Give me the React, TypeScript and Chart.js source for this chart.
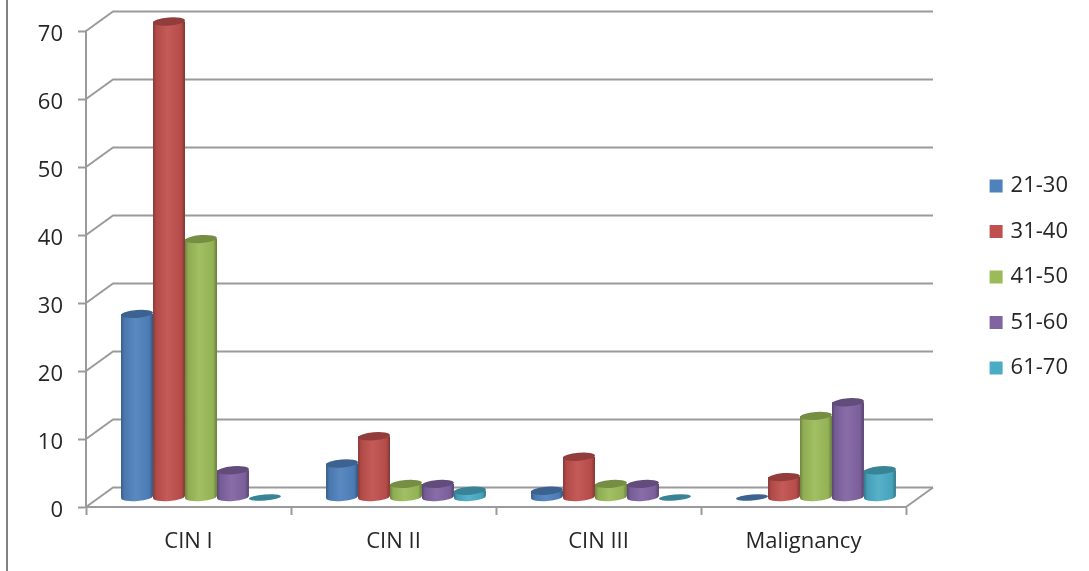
import React, { useEffect, useRef } from "react";
import { Chart, registerables, BarController, BarElement } from "chart.js";

const categories = ["CIN I", "CIN II", "CIN III", "Malignancy"];
const seriesNames = ["21-30", "31-40", "41-50", "51-60", "61-70"];
const age21to30 = [27, 5, 1, 0];
const age31to40 = [70, 9, 6, 3];
const age41to50 = [38, 2, 2, 12];
const age51to60 = [4, 2, 2, 14];
const age61to70 = [0, 1, 0, 4];
const seriesValues = [age21to30, age31to40, age41to50, age51to60, age61to70];
const seriesColors = ["#4f81bd", "#c0504d", "#9bbb59", "#8064a2", "#4bacc6"];

const GRID = "#9a9a9a";
const TEXT = "#262626";
const FONT = '"Open Sans", sans-serif';
const FONT_SIZE = 22;
const PLOT_RIGHT = 906;
const LEGEND_MARGIN = 11;
const LEGEND_LIFT = 24;
const WALL_DX = 27;
const WALL_DY = -19.5;
const BAR_DX = 12.5;
const BAR_DY = -9.5;
const CAP_RY = 4;

function shade(hex: string, factor: number): string {
  const n = parseInt(hex.slice(1), 16);
  const ch = [(n >> 16) & 255, (n >> 8) & 255, n & 255].map((c) =>
    Math.max(0, Math.min(255, Math.round(factor <= 1 ? c * factor : c + (255 - c) * (factor - 1))))
  );
  return `rgb(${ch[0]},${ch[1]},${ch[2]})`;
}

// Bar element painted as a shaded upright cylinder standing mid-way on the floor.
class CylinderElement extends BarElement {
  static id = "cylinder";

  draw(ctx: CanvasRenderingContext2D) {
    const { x, y, base, width } = (this as any).getProps(["x", "y", "base", "width"]);
    const color: string = (this as any).options.backgroundColor;
    const cx = x + BAR_DX;
    const top = y + BAR_DY;
    const bottom = base + BAR_DY;
    const half = width / 2;
    const tilt = -0.08;

    ctx.save();
    if (bottom - top < 1) {
      ctx.fillStyle = shade(color, 0.76);
      ctx.beginPath();
      ctx.ellipse(cx, bottom, half, 3, tilt, 0, Math.PI * 2);
      ctx.fill();
      ctx.restore();
      return;
    }

    const body = ctx.createLinearGradient(cx - half, 0, cx + half, 0);
    body.addColorStop(0, shade(color, 0.7));
    body.addColorStop(0.1, shade(color, 0.92));
    body.addColorStop(0.45, shade(color, 1.06));
    body.addColorStop(0.88, shade(color, 0.95));
    body.addColorStop(1, shade(color, 0.66));
    ctx.fillStyle = body;
    ctx.beginPath();
    ctx.moveTo(cx - half, top);
    ctx.lineTo(cx - half, bottom);
    ctx.ellipse(cx, bottom, half, CAP_RY, tilt, Math.PI, 0, true);
    ctx.lineTo(cx + half, top);
    ctx.closePath();
    ctx.fill();

    ctx.fillStyle = shade(color, 0.76);
    ctx.beginPath();
    ctx.ellipse(cx, top, half, CAP_RY, tilt, 0, Math.PI * 2);
    ctx.fill();
    ctx.restore();
  }
}

class CylinderController extends BarController {
  static id = "cylinderBar";
  static defaults = { ...BarController.defaults, dataElementType: "cylinder" };
  static overrides = BarController.overrides;
}

Chart.register(...registerables, CylinderElement, CylinderController);

// Back wall gridlines, their slanted returns to the value axis, and the floor edge.
const wallPlugin = {
  id: "wall",
  beforeDatasetsDraw(chart: any) {
    const { ctx, scales, chartArea } = chart;
    const y = scales.y;
    ctx.save();
    ctx.strokeStyle = GRID;
    ctx.lineWidth = 2;
    ctx.lineJoin = "round";
    for (const tick of y.ticks) {
      const py = y.getPixelForValue(tick.value);
      ctx.beginPath();
      ctx.moveTo(chartArea.left, py);
      ctx.lineTo(chartArea.left + WALL_DX, py + WALL_DY);
      ctx.lineTo(chartArea.right + WALL_DX, py + WALL_DY);
      ctx.stroke();
    }
    ctx.beginPath();
    ctx.moveTo(chartArea.right, chartArea.bottom);
    ctx.lineTo(chartArea.right + WALL_DX, chartArea.bottom + WALL_DY);
    ctx.stroke();
    ctx.restore();
  },
};

// Thin rule running down the left edge of the figure.
const edgeRule = {
  id: "edgeRule",
  beforeDraw(chart: any) {
    const { ctx, height } = chart;
    ctx.save();
    ctx.strokeStyle = "#808080";
    ctx.lineWidth = 2;
    ctx.beginPath();
    ctx.moveTo(7, 0);
    ctx.lineTo(7, height);
    ctx.stroke();
    ctx.restore();
  },
};

// Raises the legend so it centres on the plot rather than on the whole figure.
const legendLift = {
  id: "legendLift",
  afterLayout(chart: any) {
    chart.legend.top -= LEGEND_LIFT;
    chart.legend.bottom -= LEGEND_LIFT;
  },
};

export default function App() {
  const canvasRef = useRef<HTMLCanvasElement | null>(null);

  useEffect(() => {
    if (!canvasRef.current) return;
    const chart = new Chart(canvasRef.current, {
      type: "cylinderBar" as any,
      data: {
        labels: categories,
        datasets: seriesNames.map((name, i) => ({
          label: name,
          data: seriesValues[i],
          backgroundColor: seriesColors[i],
          borderColor: seriesColors[i],
          borderWidth: 0,
          barPercentage: 1,
          categoryPercentage: 0.78,
          clip: false as any,
        })),
      },
      plugins: [edgeRule, wallPlugin, legendLift],
      options: {
        responsive: false,
        animation: false,
        layout: { padding: { top: 31, right: LEGEND_MARGIN, left: 0, bottom: 0 } },
        plugins: {
          tooltip: { enabled: false },
          legend: {
            position: "right",
            labels: {
              color: TEXT,
              font: { family: FONT, size: FONT_SIZE },
              usePointStyle: true,
              pointStyle: "rect",
              boxWidth: 7,
              boxHeight: 13,
              padding: 23.5,
            },
          },
        },
        scales: {
          x: {
            afterFit: (s: any) => {
              s.height = 64;
            },
            border: { color: GRID, width: 2 },
            grid: { drawOnChartArea: false, tickLength: 8, tickColor: GRID, tickWidth: 2 },
            ticks: { color: TEXT, font: { family: FONT, size: FONT_SIZE }, padding: 14, maxRotation: 0 },
          },
          y: {
            min: 0,
            max: 70,
            afterFit: (s: any) => {
              s.width = 86;
            },
            border: { color: GRID, width: 2 },
            grid: { drawOnChartArea: false, tickLength: 8, tickColor: GRID, tickWidth: 2 },
            ticks: { stepSize: 10, color: TEXT, font: { family: FONT, size: FONT_SIZE }, padding: 15, labelOffset: 4 },
          },
          // Empty axis that keeps the gap between the plot and the legend.
          gutter: {
            axis: "y",
            position: "right",
            afterFit: (s: any) => {
              s.width = s.chart.width - LEGEND_MARGIN - PLOT_RIGHT - s.chart.legend.width;
            },
            border: { display: false },
            grid: { display: false },
            ticks: { display: false },
          },
        },
      },
    });
    return () => chart.destroy();
  }, []);

  return (
    <div style={{ position: "fixed", left: 0, top: 0, width: 1089, height: 571, background: "#fff" }}>
      <canvas ref={canvasRef} width={1089} height={571} style={{ display: "block" }} />
    </div>
  );
}
